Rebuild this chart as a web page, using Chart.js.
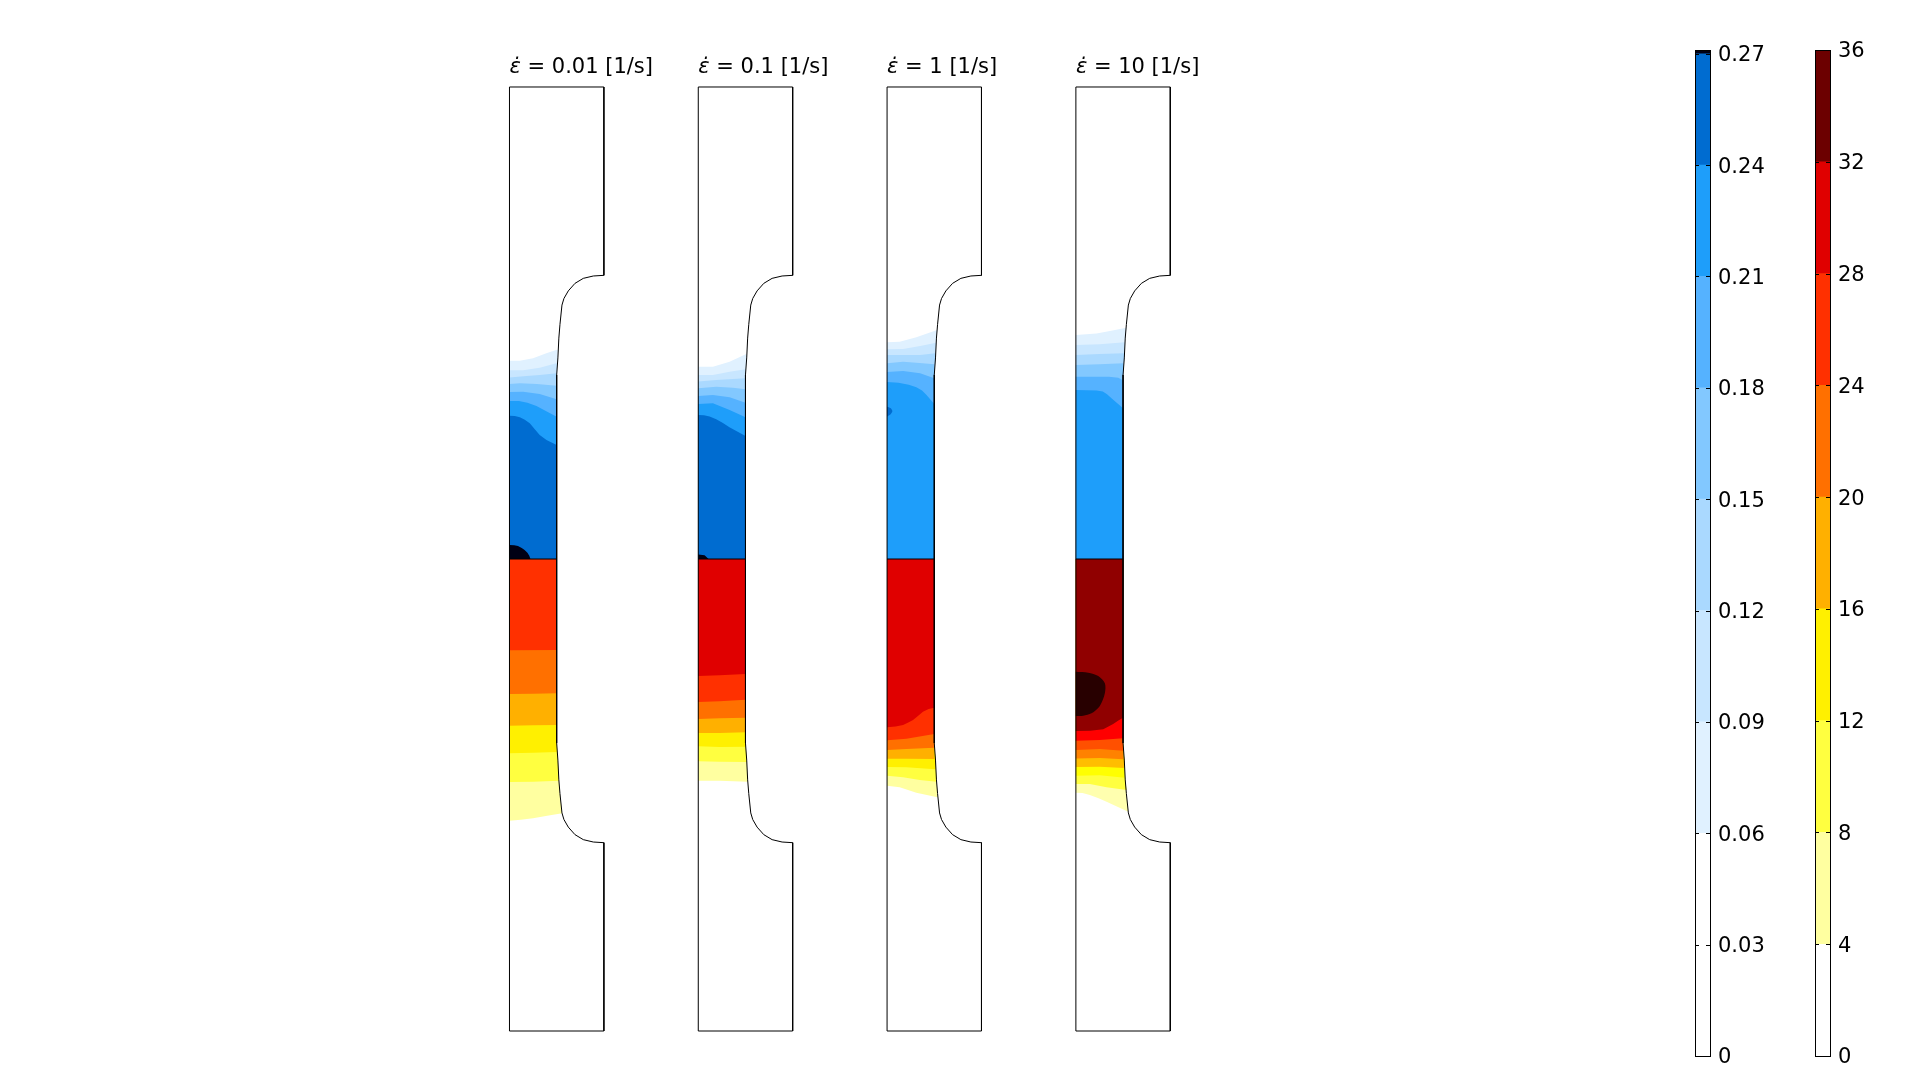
<!DOCTYPE html>
<html>
<head>
<meta charset="utf-8">
<title>Strain and temperature contours</title>
<script src="https://cdn.jsdelivr.net/npm/chart.js@4"></script>
<style>
    body { margin: 0; background: #fff; width: 1920px; height: 1080px; overflow: hidden; position: relative; }
    canvas { position: absolute; top: 0; display: block; }
</style>
</head>
<body>
<canvas id="specimens" width="1920" height="1080" style="left:0"></canvas>
<canvas id="strainBar" width="110" height="1080" style="left:1695px"></canvas>
<canvas id="heatBar" width="90" height="1080" style="left:1815px"></canvas>
<script>
// everything on the specimens is in mm, y = 0 is the specimen mid line
const rateLabels = ['0.01', '0.1', '1', '10'];
const panelLeft = [53.97, 73.97, 93.97, 113.97];

// right hand side of the specimen, going up from the mid line
const outlineX = [5, 5, 5.13, 5.23, 5.35, 5.56, 5.77, 6.23, 6.94, 7.82, 8.88, 10, 10];
const outlineY = [0, 19.5, 21.3, 23.4, 24.86, 26.9, 27.6, 28.4, 29.2, 29.73, 29.98, 30.05, 50];

const strainTicks = [0, 0.03, 0.06, 0.09, 0.12, 0.15, 0.18, 0.21, 0.24, 0.27];
const heatTicks = [0, 4, 8, 12, 16, 20, 24, 28, 32, 36];
const strainBarTop = 0.271;
const heatBarTop = 36;

const strainColors = ['#e0f1ff', '#c8e6ff', '#aad9ff', '#82c8ff', '#55b2ff', '#1e9efa', '#006cd0', '#000014'];
const heatColors = ['#ffffa0', '#ffff40', '#fff000', '#ffb000', '#ff7000', '#ff3000', '#e00000'];
const heatColors10 = ['#ffffaf', '#ffff40', '#ffff00', '#ffbe00', '#ff8200', '#ff5000', '#ff0000', '#900000'];
const strainBarColors = ['#ffffff', '#ffffff', '#e0f1ff', '#c8e6ff', '#aad9ff', '#82c8ff', '#55b2ff', '#1e9efa', '#006cd0', '#000014'];
const heatBarColors = ['#ffffff', '#ffffa0', '#ffff40', '#fff000', '#ffb000', '#ff7000', '#ff3000', '#e00000', '#6c0000'];

// level curves of the strain, lowest level first
const strain001 = [
    [[0, 21.0], [1.1, 21.0], [2.5, 21.26], [3.9, 21.8], [5.1, 22.2]],
    [[0, 20.0], [1.45, 20.0], [3.2, 20.27], [5.06, 20.75]],
    [[0, 19.24], [1.8, 19.39], [3.2, 19.49], [5, 19.67]],
    [[0, 18.54], [1.1, 18.61], [2.9, 18.54], [5, 18.36]],
    [[0, 17.69], [1.45, 17.73], [3.2, 17.48], [5, 16.91]],
    [[0, 16.74], [1.0, 16.74], [1.9, 16.55], [2.86, 16.21], [4, 15.6], [5, 15.08]],
    [[0, 15.18], [0.56, 15.15], [1.1, 15.01], [1.62, 14.76], [2.15, 14.37], [2.68, 13.74], [3.2, 13.14], [3.92, 12.61], [5, 12.08]],
    [[0, 1.48], [0.5, 1.47], [0.9, 1.37], [1.3, 1.17], [1.6, 0.95], [1.9, 0.65], [2.1, 0.35], [2.22, 0]]
];
const strain01 = [
    [[0, 20.37], [1.55, 20.37], [3.32, 20.9], [5.08, 21.72]],
    [[0, 19.49], [1.55, 19.49], [3.32, 19.84], [5.02, 20.09]],
    [[0, 18.79], [1.9, 18.96], [5, 19.14]],
    [[0, 18.08], [1.9, 18.26], [3.67, 18.15], [5, 17.97]],
    [[0, 17.27], [1.55, 17.37], [3.32, 17.13], [5, 16.56]],
    [[0, 16.42], [1.55, 16.49], [3.32, 15.78], [5, 15.01]],
    [[0, 15.25], [0.6, 15.22], [1.2, 15.1], [1.9, 14.8], [2.61, 14.4], [3.3, 13.95], [4.03, 13.55], [5, 13.03]],
    [[0, 0.49], [0.67, 0.39], [1.09, 0]]
];
const strain1 = [
    [[0, 22.95], [1.34, 23.02], [3.1, 23.48], [5.3, 24.26]],
    [[0, 22.21], [1.7, 22.25], [3.5, 22.56], [5.2, 22.92]],
    [[0, 21.61], [2.05, 21.61], [3.5, 21.61], [5.1, 21.79]],
    [[0, 20.73], [1.7, 20.9], [3.1, 20.8], [5.03, 20.62]],
    [[0, 19.81], [1.7, 19.92], [3.5, 19.67], [5, 19.14]],
    [[0, 18.75], [1.2, 18.67], [2.3, 18.45], [3.1, 18.2], [3.7, 17.85], [4.2, 17.35], [5, 16.42]]
];
const strain1Spot = [[0, 16.14], [0.35, 16.0], [0.56, 15.68], [0.35, 15.3], [0, 15.08]];
const strain10 = [
    [[0, 23.73], [2.19, 23.9], [3.6, 24.15], [5.35, 24.5]],
    [[0, 22.67], [2.5, 22.75], [5.2, 22.95]],
    [[0, 21.61], [2.5, 21.72], [5.1, 21.79]],
    [[0, 20.55], [2.5, 20.62], [5.03, 20.73]],
    [[0, 19.31], [3.5, 19.31], [4.5, 19.2], [5, 18.9]],
    [[0, 17.9], [2.2, 17.85], [2.85, 17.75], [3.3, 17.45], [3.8, 17.0], [5, 15.96]]
];

// level curves of the temperature rise
const heat001 = [
    [[0, -27.72], [1.2, -27.62], [2.5, -27.47], [4, -27.2], [5.58, -26.94]],
    [[0, -23.62], [2.5, -23.59], [5.23, -23.48]],
    [[0, -20.59], [2.5, -20.52], [5.02, -20.44]],
    [[0, -17.66], [2.5, -17.62], [5, -17.58]],
    [[0, -14.3], [2.5, -14.27], [5, -14.23]],
    [[0, -9.67], [5, -9.64]]
];
const heat01 = [
    [[0, -23.48], [2.26, -23.48], [5.22, -23.59]],
    [[0, -21.43], [2.26, -21.47], [5.1, -21.5]],
    [[0, -19.84], [2.26, -19.92], [5, -19.88]],
    [[0, -18.43], [2.26, -18.43], [5, -18.36]],
    [[0, -16.95], [2.26, -16.88], [5, -16.81]],
    [[0, -15.15], [2.26, -15.08], [5, -14.9]],
    [[0, -12.39], [2.26, -12.32], [5, -12.18]]
];
const heat1 = [
    [[0, -24.01], [1.34, -24.19], [3.1, -24.75], [5.33, -25.25]],
    [[0, -22.95], [1.7, -23.13], [3.46, -23.41], [5.23, -23.59]],
    [[0, -22.03], [2.05, -22.07], [5.08, -22.28]],
    [[0, -21.15], [2.05, -21.15], [5, -21.19]],
    [[0, -20.23], [2.05, -20.13], [5, -19.99]],
    [[0, -19.21], [2.05, -19.03], [5, -18.54]],
    [[0, -17.83], [0.9, -17.75], [1.7, -17.58], [2.3, -17.3], [2.75, -17.06], [3.3, -16.6], [3.8, -16.17], [4.4, -15.9], [5, -15.75]]
];
const heat10 = [
    [[0, -24.75], [0.7, -24.8], [1.48, -25], [2.4, -25.35], [3.25, -25.71], [4.4, -26.25], [5.54, -26.77]],
    [[0, -23.83], [1.48, -23.83], [3.25, -24.19], [5.37, -24.47]],
    [[0, -22.95], [2.54, -22.92], [5.19, -23.16]],
    [[0, -22.03], [2.54, -22], [5.08, -22.14]],
    [[0, -21.12], [2.54, -21.08], [5.01, -21.22]],
    [[0, -20.23], [2.54, -20.13], [5, -20.3]],
    [[0, -19.24], [2.54, -19.17], [5, -19]],
    [[0, -18.22], [1.5, -18.2], [2.9, -18.04], [3.45, -17.75], [3.95, -17.48], [4.5, -17.1], [5, -16.81]]
];
const heat10Spot = [[0, -11.94], [1.31, -12.04], [2.37, -12.39], [3.07, -13.17], [3.07, -14.23], [2.54, -15.57], [1.66, -16.35], [0.78, -16.6], [0, -16.63]];

const strainPanels = [strain001, strain01, strain1, strain10];
const heatPanels = [heat001, heat01, heat1, heat10];
const heatPalettes = [heatColors, heatColors, heatColors, heatColors10];

Chart.defaults.font.family = '"DejaVu Sans"';

const shapeDataset = (points, color, left, tension) => ({
    data: points.map((p) => ({ x: p[0] + left, y: p[1] })),
    backgroundColor: color,
    fill: 'shape',
    showLine: true,
    tension: tension || 0,
    borderWidth: 0,
    pointRadius: 0
});

const lineDataset = (points, left) => ({
    data: points.map((p) => ({ x: p[0] + left, y: p[1] })),
    borderColor: '#000',
    borderWidth: 1,
    fill: false,
    showLine: true,
    pointRadius: 0
});

// region between a level curve and the mid line, painted lowest level first
const closeToMidline = (curve) => {
    const last = curve[curve.length - 1];
    const side = curve[0][1] < 0 ? -1 : 1;
    let points = curve.slice();
    for (let i = outlineY.length - 1; i >= 0; i--) {
        if (outlineY[i] < Math.abs(last[1]) && outlineY[i] > 0) {
            points.push([outlineX[i], side * outlineY[i]]);
        }
    }
    points.push([5, 0], [0, 0]);
    return points;
};

const outlinePath = () => {
    let points = [[0, 50]];
    for (let i = outlineY.length - 1; i >= 1; i--) {
        points.push([outlineX[i], outlineY[i]]);
    }
    for (let i = 1; i < outlineY.length; i++) {
        points.push([outlineX[i], -outlineY[i]]);
    }
    points.push([0, -50], [0, 50]);
    return points;
};

let specimenSets = [];
panelLeft.forEach((left, p) => {
    strainPanels[p].forEach((curve, i) => {
        specimenSets.push(shapeDataset(closeToMidline(curve), strainColors[i], left));
    });
    heatPanels[p].forEach((curve, i) => {
        specimenSets.push(shapeDataset(closeToMidline(curve), heatPalettes[p][i], left));
    });
});
specimenSets.push(shapeDataset(strain1Spot, strainColors[6], panelLeft[2], 0.3));
specimenSets.push(shapeDataset(heat10Spot, '#280000', panelLeft[3], 0.3));
panelLeft.forEach((left) => {
    specimenSets.push(lineDataset(outlinePath(), left));
    specimenSets.push(lineDataset([[0, 0], [5, 0]], left));
});
// first dataset ends up on top, so turn the paint order round
specimenSets.reverse();

const titlePlugin = {
    id: 'rateTitles',
    afterDraw(chart) {
        const ctx = chart.ctx;
        ctx.save();
        ctx.fillStyle = '#000';
        ctx.textBaseline = 'alphabetic';
        rateLabels.forEach((rate, i) => {
            let px = chart.scales.x.getPixelForValue(panelLeft[i]);
            const py = chart.scales.y.getPixelForValue(51.5);
            ctx.font = 'italic 21px "DejaVu Sans"';
            ctx.fillText('\u03B5\u0307', px, py);
            px += ctx.measureText('\u03B5').width;
            ctx.font = '21px "DejaVu Sans"';
            ctx.fillText(' = ' + rate + ' [1/s]', px, py);
        });
        ctx.restore();
    }
};

new Chart(document.getElementById('specimens').getContext('2d'), {
    type: 'scatter',
    data: { datasets: specimenSets },
    plugins: [titlePlugin],
    options: {
        responsive: false,
        animation: false,
        events: [],
        layout: { padding: 0 },
        plugins: { legend: { display: false }, tooltip: { enabled: false } },
        scales: {
            x: { type: 'linear', display: false, min: 0, max: 203.39 },
            y: { type: 'linear', display: false, min: -55.19, max: 59.216 }
        }
    }
});

const framePlugin = {
    id: 'barFrame',
    afterDatasetsDraw(chart) {
        const ctx = chart.ctx;
        const area = chart.chartArea;
        const y = chart.scales.y;
        ctx.save();
        ctx.strokeStyle = '#000';
        ctx.lineWidth = 1;
        ctx.strokeRect(area.left + 0.5, area.top + 0.5, area.right - area.left, area.bottom - area.top);
        ctx.beginPath();
        y.ticks.forEach((t) => {
            const py = Math.round(y.getPixelForValue(t.value)) + 0.5;
            if (py < area.top || py > area.bottom) return;
            ctx.moveTo(area.left, py);
            ctx.lineTo(area.left + 4, py);
            ctx.moveTo(area.right - 4, py);
            ctx.lineTo(area.right, py);
        });
        ctx.stroke();
        ctx.restore();
    }
};

const newColorBar = (id, ticks, top, colors, labelGap) => {
    const edges = ticks.filter((v) => v < top).concat([top]);
    const sets = colors.map((color, i) => ({
        data: [[edges[i], edges[i + 1]]],
        backgroundColor: color,
        borderWidth: 0,
        barPercentage: 1,
        categoryPercentage: 1,
        grouped: false
    }));
    const canvas = document.getElementById(id);
    new Chart(canvas.getContext('2d'), {
        type: 'bar',
        data: { labels: [''], datasets: sets },
        plugins: [framePlugin],
        options: {
            responsive: false,
            animation: false,
            events: [],
            layout: { padding: { top: 50, bottom: 24, left: 0, right: 0 } },
            plugins: { legend: { display: false }, tooltip: { enabled: false } },
            scales: {
                x: { display: false },
                y: {
                    position: 'right',
                    min: 0,
                    max: top,
                    grid: { display: false },
                    border: { display: false },
                    afterBuildTicks: (scale) => { scale.ticks = ticks.map((v) => ({ value: v })); },
                    afterFit: (scale) => { scale.width = canvas.width - 15; },
                    ticks: {
                        autoSkip: false,
                        padding: labelGap,
                        labelOffset: 2,
                        color: '#000',
                        font: { size: 21 },
                        callback: (v) => String(v)
                    }
                }
            }
        }
    });
};

newColorBar('strainBar', strainTicks, strainBarTop, strainBarColors, 0);
newColorBar('heatBar', heatTicks, heatBarTop, heatBarColors, 0);
</script>
</body>
</html>
